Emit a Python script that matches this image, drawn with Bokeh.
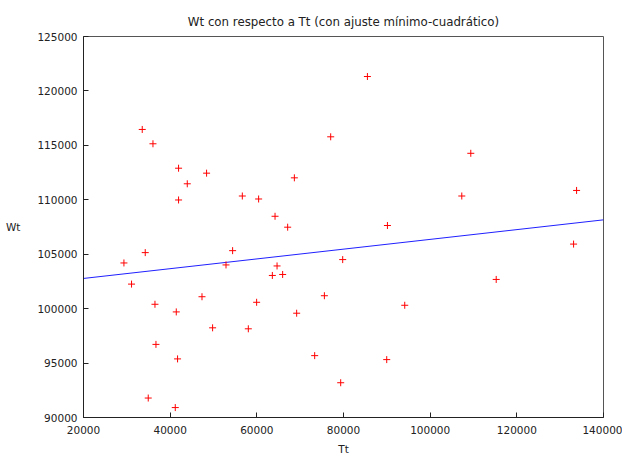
from bokeh.plotting import figure
from bokeh.models import Range1d, FixedTicker, NumeralTickFormatter
from bokeh.embed import file_html
from bokeh.resources import INLINE

# Data
tt = [33557, 36028, 41940, 48406, 43949, 41940, 56651, 60416,
      34249, 29330, 54411, 52887, 31085, 47344, 59954, 36490,
      41409, 49792, 58037, 36721, 41709, 34942, 41178,
      85520, 77044, 68661, 64203, 67113, 90139,
      79815, 64665, 63580, 65958, 75589, 94134, 69192,
      73349, 89977, 79353,
      109376, 107298, 133788, 133095, 115242]
wt = [116460, 115146, 112901, 112445, 111469, 109982, 110347, 110073,
      105146, 104197, 105328, 104015, 102254, 101095, 100584, 100401,
      99699, 98239, 98148, 96715, 95383, 91788, 90912,
      121323, 115785, 112016, 108485, 107482, 107637,
      104507, 103923, 103048, 103139, 101186, 100310, 99580,
      95684, 95319, 93193,
      114270, 110347, 110858, 105931, 102682]

# Least-squares line as drawn in the reference (end points)
fit_x = [20000, 140000]
fit_y = [102774, 108157]

x_ticks = [20000, 40000, 60000, 80000, 100000, 120000, 140000]
y_ticks = [90000, 95000, 100000, 105000, 110000, 115000, 120000, 125000]

FONT = "DejaVu Sans"

p = figure(width=622, height=457, output_backend="svg", toolbar_location=None,
           x_range=Range1d(20000, 140000), y_range=Range1d(90000, 125000),
           min_border_left=83, min_border_right=19, min_border_top=36,
           min_border_bottom=37)

p.title.text = "Wt con respecto a Tt (con ajuste mínimo-cuadrático)"
p.title.align = "center"
p.title.text_font = FONT
p.title.text_font_size = "11.8px"
p.title.text_font_style = "normal"
p.title.text_color = "#222222"
p.title.standoff = 16

p.line(fit_x, fit_y, line_color="#2020ff", line_width=1)
p.scatter(tt, wt, marker="cross", size=7, line_color="red", line_width=1)

p.grid.visible = False
p.outline_line_color = "#555555"
p.outline_line_width = 1
p.background_fill_color = "white"
p.border_fill_color = "white"

for ax in (p.xaxis[0], p.yaxis[0]):
    ax.major_tick_in = 5
    ax.major_tick_out = 0
    ax.minor_tick_line_color = None
    ax.axis_line_color = "#222222"
    ax.major_tick_line_color = "#222222"
    ax.major_label_text_font = FONT
    ax.major_label_text_font_size = "10.5px"
    ax.major_label_text_color = "#222222"
    ax.axis_label_text_font = FONT
    ax.axis_label_text_font_size = "10.5px"
    ax.axis_label_text_font_style = "normal"
    ax.axis_label_text_color = "#222222"
    ax.formatter = NumeralTickFormatter(format="0")

p.xaxis.ticker = FixedTicker(ticks=x_ticks)
p.yaxis.ticker = FixedTicker(ticks=y_ticks)
p.xaxis.axis_label = "Tt"
p.yaxis.axis_label = "Wt"
p.yaxis.axis_label_orientation = "horizontal"
p.xaxis.major_label_standoff = 8
p.yaxis.major_label_standoff = 6
p.xaxis.axis_label_standoff = 6
p.yaxis.axis_label_standoff = 14

open("out.html", "w").write(file_html(p, INLINE))
